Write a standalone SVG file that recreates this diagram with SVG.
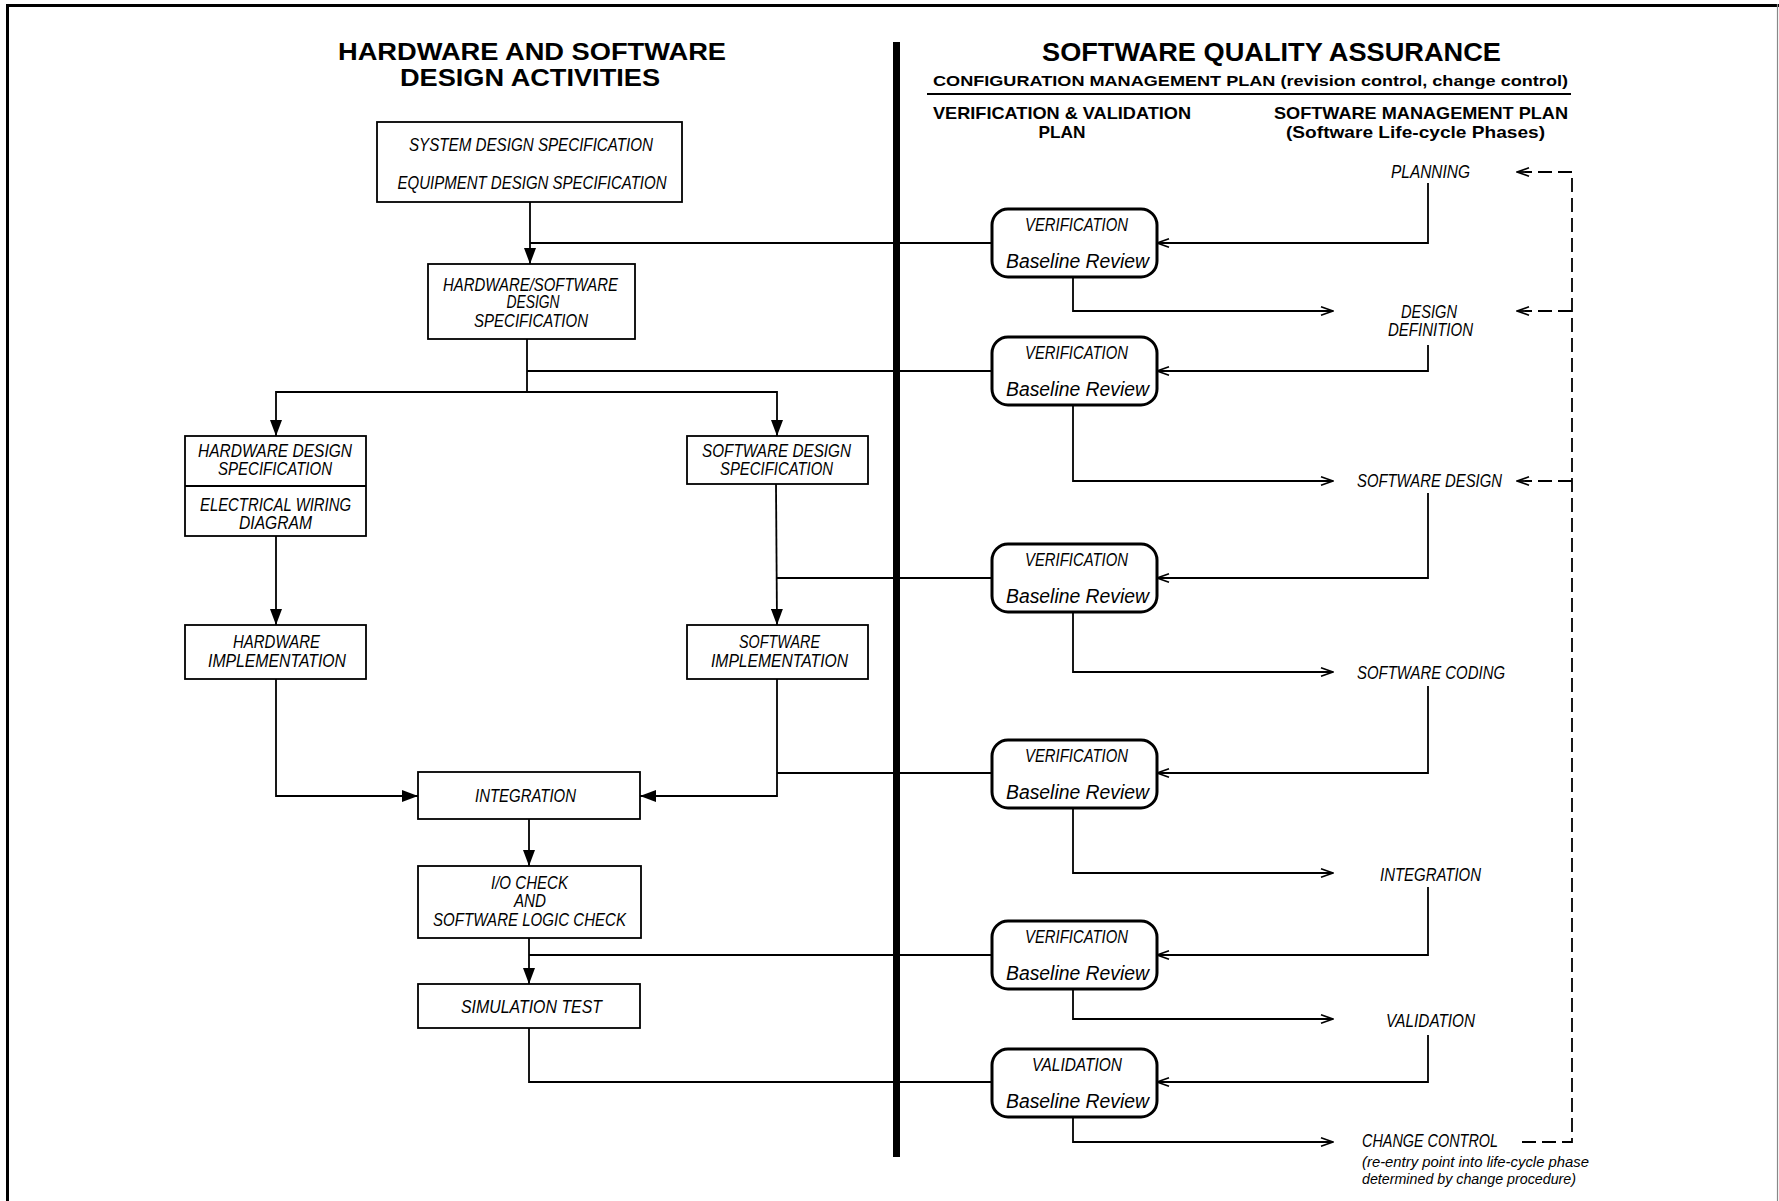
<svg xmlns="http://www.w3.org/2000/svg" width="1779" height="1201" viewBox="0 0 1779 1201">
<defs>
<style>
.box{fill:#fff;stroke:#000;stroke-width:1.8}
.rbox{fill:#fff;stroke:#000;stroke-width:3}
.ln{fill:none;stroke:#000;stroke-width:1.8}
.dash{fill:none;stroke:#000;stroke-width:1.8;stroke-dasharray:14 6}
.t{font-family:"Liberation Sans",Arial,sans-serif;font-style:italic;font-size:17.5px;text-anchor:middle;fill:#000}
.br{font-family:"Liberation Sans",Arial,sans-serif;font-style:italic;font-size:19.5px;text-anchor:middle;fill:#000}
.s{font-family:"Liberation Sans",Arial,sans-serif;font-style:italic;font-size:15px;fill:#000}
.h{font-family:"Liberation Sans",Arial,sans-serif;font-weight:bold;text-anchor:middle;fill:#000}
.fa{marker-end:url(#fa)}
.oa{marker-end:url(#oa)}
</style>
<marker id="fa" viewBox="0 0 16 12" refX="16" refY="6" markerWidth="16" markerHeight="12" markerUnits="userSpaceOnUse" orient="auto">
<path d="M0,0 L16,6 L0,12 Z" fill="#000"/>
</marker>
<marker id="oa" viewBox="0 0 14 10" refX="13" refY="5" markerWidth="14" markerHeight="10" markerUnits="userSpaceOnUse" orient="auto">
<path d="M1,0.8 L13,5 L1,9.2" fill="none" stroke="#000" stroke-width="1.7"/>
</marker>
</defs>
<rect width="1779" height="1201" fill="#fff"/>
<g id="frame">
<line x1="6" y1="5.5" x2="1779" y2="5.5" stroke="#000" stroke-width="3"/>
<line x1="7.5" y1="4" x2="7.5" y2="1201" stroke="#000" stroke-width="3"/>
<line x1="1777.5" y1="4" x2="1777.5" y2="1201" stroke="#888" stroke-width="1.2"/>
</g>
<g id="headers">
<text class="h" x="532" y="60" font-size="24" textLength="388" lengthAdjust="spacingAndGlyphs">HARDWARE AND SOFTWARE</text>
<text class="h" x="530" y="86" font-size="24" textLength="260" lengthAdjust="spacingAndGlyphs">DESIGN ACTIVITIES</text>
<text class="h" x="1271.5" y="61" font-size="25" textLength="459" lengthAdjust="spacingAndGlyphs">SOFTWARE QUALITY ASSURANCE</text>
<text class="h" x="1250.5" y="86" font-size="15.5" textLength="635" lengthAdjust="spacingAndGlyphs">CONFIGURATION MANAGEMENT PLAN (revision control, change control)</text>
<line x1="927" y1="94" x2="1571" y2="94" stroke="#000" stroke-width="1.8"/>
<text class="h" x="1062" y="119" font-size="17" textLength="258" lengthAdjust="spacingAndGlyphs">VERIFICATION &amp; VALIDATION</text>
<text class="h" x="1062" y="138" font-size="17" textLength="47" lengthAdjust="spacingAndGlyphs">PLAN</text>
<text class="h" x="1421" y="119" font-size="17" textLength="294" lengthAdjust="spacingAndGlyphs">SOFTWARE MANAGEMENT PLAN</text>
<text class="h" x="1415.5" y="138" font-size="17" textLength="259" lengthAdjust="spacingAndGlyphs">(Software Life-cycle Phases)</text>
</g>
<g id="connectors">
<path class="ln fa" d="M530,202 V264"/>
<path class="ln" d="M530,243 H992"/>
<path class="ln" d="M527,339 V392"/>
<path class="ln" d="M527,371 H992"/>
<path class="ln fa" d="M527,392 H276 V436"/>
<path class="ln fa" d="M527,392 H777 V436"/>
<path class="ln fa" d="M276,536 V625"/>
<path class="ln fa" d="M776,484 L777,625"/>
<path class="ln" d="M777,578 H992"/>
<path class="ln fa" d="M276,679 V796 H418"/>
<path class="ln fa" d="M777,679 V796 H640"/>
<path class="ln" d="M777,773 H992"/>
<path class="ln fa" d="M529,819 V866"/>
<path class="ln fa" d="M529,938 V984"/>
<path class="ln" d="M529,955 H992"/>
<path class="ln" d="M529,1028 V1082 H992"/>
<path class="ln oa" d="M1428,183 V243 H1157"/>
<path class="ln oa" d="M1428,345 V371 H1157"/>
<path class="ln oa" d="M1428,493 V578 H1157"/>
<path class="ln oa" d="M1428,686 V773 H1157"/>
<path class="ln oa" d="M1428,887 V955 H1157"/>
<path class="ln oa" d="M1428,1035 V1082 H1157"/>
<path class="ln oa" d="M1073,277 V311 H1333"/>
<path class="ln oa" d="M1073,405 V481 H1333"/>
<path class="ln oa" d="M1073,611 V672 H1333"/>
<path class="ln oa" d="M1073,807 V873 H1333"/>
<path class="ln oa" d="M1073,989 V1019 H1333"/>
<path class="ln oa" d="M1073,1117 V1142 H1333"/>
<path class="dash" d="M1522,1142 H1572 V172"/>
<path class="dash oa" d="M1572,172 H1517"/>
<path class="dash oa" d="M1572,311 H1517"/>
<path class="dash oa" d="M1572,481 H1517"/>
</g>
<rect id="divider" x="893" y="42" width="7" height="1115" fill="#000"/>
<g id="system-design">
<rect class="box" x="377" y="122" width="305" height="80"/>
<text class="t" x="531" y="151" textLength="244" lengthAdjust="spacingAndGlyphs">SYSTEM DESIGN SPECIFICATION</text>
<text class="t" x="532" y="189" textLength="269" lengthAdjust="spacingAndGlyphs">EQUIPMENT DESIGN SPECIFICATION</text>
</g>
<g id="hw-sw-design">
<rect class="box" x="428" y="264" width="207" height="75"/>
<text class="t" x="530.5" y="291" textLength="175" lengthAdjust="spacingAndGlyphs">HARDWARE/SOFTWARE</text>
<text class="t" x="533" y="308" textLength="53" lengthAdjust="spacingAndGlyphs">DESIGN</text>
<text class="t" x="531" y="327" textLength="114" lengthAdjust="spacingAndGlyphs">SPECIFICATION</text>
</g>
<g id="hw-design">
<rect class="box" x="185" y="436" width="181" height="100"/>
<line x1="185" y1="486" x2="366" y2="486" stroke="#000" stroke-width="1.8"/>
<text class="t" x="275" y="457" textLength="154" lengthAdjust="spacingAndGlyphs">HARDWARE DESIGN</text>
<text class="t" x="275" y="475" textLength="114" lengthAdjust="spacingAndGlyphs">SPECIFICATION</text>
<text class="t" x="275.5" y="511" textLength="151" lengthAdjust="spacingAndGlyphs">ELECTRICAL WIRING</text>
<text class="t" x="275.5" y="529" textLength="73" lengthAdjust="spacingAndGlyphs">DIAGRAM</text>
</g>
<g id="sw-design">
<rect class="box" x="687" y="436" width="181" height="48"/>
<text class="t" x="776.5" y="457" textLength="149" lengthAdjust="spacingAndGlyphs">SOFTWARE DESIGN</text>
<text class="t" x="776.5" y="475" textLength="113" lengthAdjust="spacingAndGlyphs">SPECIFICATION</text>
</g>
<g id="hw-impl">
<rect class="box" x="185" y="625" width="181" height="54"/>
<text class="t" x="276.5" y="648" textLength="87" lengthAdjust="spacingAndGlyphs">HARDWARE</text>
<text class="t" x="277" y="667" textLength="138" lengthAdjust="spacingAndGlyphs">IMPLEMENTATION</text>
</g>
<g id="sw-impl">
<rect class="box" x="687" y="625" width="181" height="54"/>
<text class="t" x="779.5" y="648" textLength="81" lengthAdjust="spacingAndGlyphs">SOFTWARE</text>
<text class="t" x="779.5" y="667" textLength="137" lengthAdjust="spacingAndGlyphs">IMPLEMENTATION</text>
</g>
<g id="integration">
<rect class="box" x="418" y="772" width="222" height="47"/>
<text class="t" x="525.5" y="802" textLength="101" lengthAdjust="spacingAndGlyphs">INTEGRATION</text>
</g>
<g id="io-check">
<rect class="box" x="418" y="866" width="223" height="72"/>
<text class="t" x="529.5" y="889" textLength="77" lengthAdjust="spacingAndGlyphs">I/O CHECK</text>
<text class="t" x="530" y="907" textLength="32" lengthAdjust="spacingAndGlyphs">AND</text>
<text class="t" x="529.5" y="926" textLength="193" lengthAdjust="spacingAndGlyphs">SOFTWARE LOGIC CHECK</text>
</g>
<g id="simulation">
<rect class="box" x="418" y="984" width="222" height="44"/>
<text class="t" x="531.5" y="1013" textLength="141" lengthAdjust="spacingAndGlyphs">SIMULATION TEST</text>
</g>
<g id="review-1">
<rect class="rbox" x="992" y="209" width="165" height="68" rx="16"/>
<text class="t" x="1076.5" y="231" textLength="103" lengthAdjust="spacingAndGlyphs">VERIFICATION</text>
<text class="br" x="1077.5" y="268" textLength="143" lengthAdjust="spacingAndGlyphs">Baseline Review</text>
</g>
<g id="review-2">
<rect class="rbox" x="992" y="337" width="165" height="68" rx="16"/>
<text class="t" x="1076.5" y="359" textLength="103" lengthAdjust="spacingAndGlyphs">VERIFICATION</text>
<text class="br" x="1077.5" y="396" textLength="143" lengthAdjust="spacingAndGlyphs">Baseline Review</text>
</g>
<g id="review-3">
<rect class="rbox" x="992" y="544" width="165" height="68" rx="16"/>
<text class="t" x="1076.5" y="566" textLength="103" lengthAdjust="spacingAndGlyphs">VERIFICATION</text>
<text class="br" x="1077.5" y="603" textLength="143" lengthAdjust="spacingAndGlyphs">Baseline Review</text>
</g>
<g id="review-4">
<rect class="rbox" x="992" y="740" width="165" height="68" rx="16"/>
<text class="t" x="1076.5" y="762" textLength="103" lengthAdjust="spacingAndGlyphs">VERIFICATION</text>
<text class="br" x="1077.5" y="799" textLength="143" lengthAdjust="spacingAndGlyphs">Baseline Review</text>
</g>
<g id="review-5">
<rect class="rbox" x="992" y="921" width="165" height="68" rx="16"/>
<text class="t" x="1076.5" y="943" textLength="103" lengthAdjust="spacingAndGlyphs">VERIFICATION</text>
<text class="br" x="1077.5" y="980" textLength="143" lengthAdjust="spacingAndGlyphs">Baseline Review</text>
</g>
<g id="review-6">
<rect class="rbox" x="992" y="1049" width="165" height="68" rx="16"/>
<text class="t" x="1077" y="1071" textLength="90" lengthAdjust="spacingAndGlyphs">VALIDATION</text>
<text class="br" x="1077.5" y="1108" textLength="143" lengthAdjust="spacingAndGlyphs">Baseline Review</text>
</g>
<g id="phase-planning">
<text class="t" x="1430.5" y="178" textLength="79" lengthAdjust="spacingAndGlyphs">PLANNING</text>
</g>
<g id="phase-design-definition">
<text class="t" x="1429" y="318" textLength="56" lengthAdjust="spacingAndGlyphs">DESIGN</text>
<text class="t" x="1430.5" y="336" textLength="85" lengthAdjust="spacingAndGlyphs">DEFINITION</text>
</g>
<g id="phase-software-design">
<text class="t" x="1429.5" y="487" textLength="145" lengthAdjust="spacingAndGlyphs">SOFTWARE DESIGN</text>
</g>
<g id="phase-software-coding">
<text class="t" x="1431" y="679" textLength="148" lengthAdjust="spacingAndGlyphs">SOFTWARE CODING</text>
</g>
<g id="phase-integration">
<text class="t" x="1430.5" y="881" textLength="101" lengthAdjust="spacingAndGlyphs">INTEGRATION</text>
</g>
<g id="phase-validation">
<text class="t" x="1430.5" y="1027" textLength="89" lengthAdjust="spacingAndGlyphs">VALIDATION</text>
</g>
<g id="phase-change-control">
<text class="t" x="1362" y="1147" style="text-anchor:start" textLength="136" lengthAdjust="spacingAndGlyphs">CHANGE CONTROL</text>
<text class="s" x="1362" y="1167" textLength="227" lengthAdjust="spacingAndGlyphs">(re-entry point into life-cycle phase</text>
<text class="s" x="1362" y="1184" textLength="214" lengthAdjust="spacingAndGlyphs">determined by change procedure)</text>
</g>
</svg>
